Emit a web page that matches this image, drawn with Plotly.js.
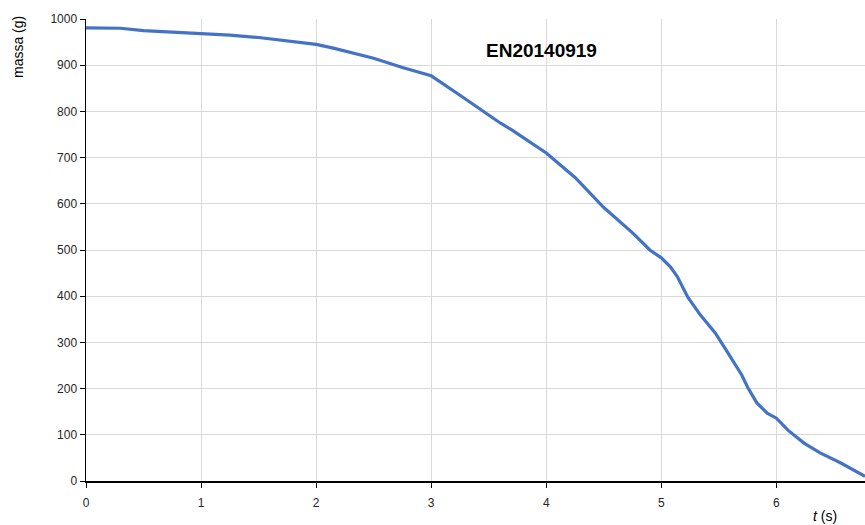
<!DOCTYPE html>
<html>
<head>
<meta charset="utf-8">
<script src="https://cdn.plot.ly/plotly-3.0.1.min.js"></script>
<style>html,body{margin:0;padding:0;background:#fff;}#chart{width:865px;height:525px;}</style>
</head>
<body>
<div id="chart"></div>
<script>
var timeS = [0, 0.3, 0.5, 0.75, 1, 1.25, 1.5, 1.75, 2, 2.15, 2.25, 2.5, 2.75, 3, 3.25, 3.5, 3.6, 3.7, 4, 4.25, 4.5, 4.75, 4.9, 5, 5.08, 5.14, 5.23, 5.34, 5.47, 5.58, 5.7, 5.75, 5.83, 5.92, 6, 6.1, 6.24, 6.38, 6.56, 6.77];
var massG = [981, 980, 975, 972, 969, 965, 960, 953, 945, 937, 931, 915, 895, 877, 835, 792, 775, 760, 710, 657, 592, 537, 500, 483, 463, 442, 398, 359, 320, 277, 229, 203, 169, 147, 136, 110, 82, 61, 39, 10];
var xTicks = [0, 1, 2, 3, 4, 5, 6];
var yTicks = [0, 100, 200, 300, 400, 500, 600, 700, 800, 900, 1000];
var chartLabel = "EN20140919";
var xTitle = "<i>t</i> (s)";
var yTitle = "massa (g)";

var trace = {
  x: timeS, y: massG, type: 'scatter', mode: 'lines',
  line: {color: '#4472C4', width: 3.2},
  hoverinfo: 'skip'
};
var fnt = {family: 'Liberation Sans, Arial, sans-serif', size: 12, color: '#262626'};
var layout = {
  width: 865, height: 525,
  margin: {l: 86, r: 0, t: 19, b: 44},
  paper_bgcolor: '#fff', plot_bgcolor: '#fff',
  showlegend: false,
  font: fnt,
  xaxis: {
    range: [0, 6.77], tickvals: xTicks, ticktext: xTicks.map(String),
    showgrid: true, gridcolor: '#d9d9d9', gridwidth: 1,
    showline: true, linecolor: '#000', linewidth: 1.5,
    ticks: 'outside', ticklen: 5, tickcolor: '#000', tickwidth: 1,
    ticklabelstandoff: 5,
    zeroline: false, tickfont: fnt, fixedrange: true
  },
  yaxis: {
    range: [0, 1000], tickvals: yTicks, ticktext: yTicks.map(String),
    showgrid: true, gridcolor: '#d9d9d9', gridwidth: 1,
    showline: true, linecolor: '#000', linewidth: 1.5,
    ticks: 'outside', ticklen: 5, tickcolor: '#000', tickwidth: 1,
    zeroline: false, tickfont: fnt, fixedrange: true
  },
  annotations: [
    {text: chartLabel, xref: 'paper', yref: 'paper', x: (541-86)/779, y: (481-50)/462,
     xanchor: 'center', yanchor: 'middle', showarrow: false,
     font: {family: 'Liberation Sans, Arial, sans-serif', size: 19, color: '#000', weight: 'bold'}},
    {text: xTitle, xref: 'paper', yref: 'paper', x: (825-86)/779, y: (481-516)/462,
     xanchor: 'center', yanchor: 'middle', showarrow: false,
     font: {family: 'Liberation Sans, Arial, sans-serif', size: 14, color: '#000'}},
    {text: yTitle, xref: 'paper', yref: 'paper', x: (18-86)/779, y: (481-47)/462,
     xanchor: 'center', yanchor: 'middle', showarrow: false, textangle: -90,
     font: {family: 'Liberation Sans, Arial, sans-serif', size: 14, color: '#000'}}
  ]
};
Plotly.newPlot('chart', [trace], layout, {displayModeBar: false, staticPlot: true});
</script>
</body>
</html>
